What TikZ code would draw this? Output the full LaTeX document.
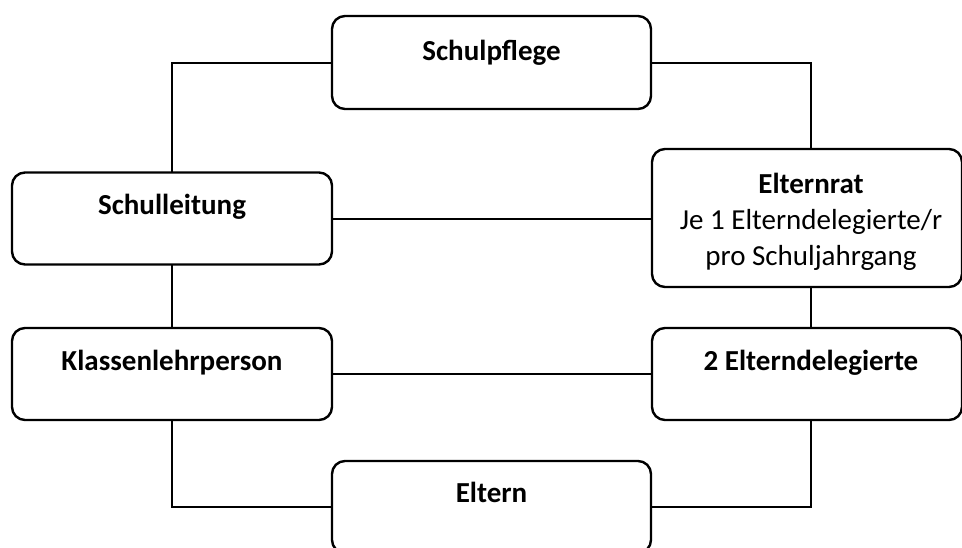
\documentclass[tikz,border=0pt]{standalone}
\usepackage{fontspec}
\setmainfont{Carlito}
\begin{document}
\begin{tikzpicture}[x=1pt,y=-1pt,
  box/.style={draw, line width=2.4pt, rounded corners=13pt, inner sep=0pt, outer sep=0pt, rectangle},
  lbl/.style={inner sep=0pt, align=center, font=\fontsize{29}{36}\selectfont},
  conn/.style={draw, line width=2pt}]
\clip (0,0) rectangle (962,547);
\fill[white] (0,0) rectangle (962,547);
% boxes
\node[box, minimum width=319pt, minimum height=93pt] (sp) at (491.5,62.5) {};
\node[box, minimum width=320pt, minimum height=92pt] (sl) at (172,218.5) {};
\node[box, minimum width=320pt, minimum height=92pt] (kl) at (172,374) {};
\node[box, minimum width=310pt, minimum height=138pt] (er) at (807,218) {};
\node[box, minimum width=310pt, minimum height=92pt] (ed) at (807,374) {};
\node[box, minimum width=319pt, minimum height=92pt] (el) at (491.5,507) {};
% texts
\node[lbl, anchor=base] (spt) at ([yshift=-44pt]sp.north) {\bfseries Schulpflege};
\node[lbl, anchor=base] (slt) at ([yshift=-42pt]sl.north) {\bfseries Schulleitung};
\node[lbl, anchor=base] (klt) at ([yshift=-42pt]kl.north) {\bfseries Klassenlehrperson};
\node[lbl, anchor=base] (ert) at ([xshift=4pt,yshift=-116pt]er.north) {{\bfseries Elternrat}\\Je 1 Elterndelegierte/r\\pro Schuljahrgang};
\node[lbl, anchor=base] (edt) at ([xshift=4pt,yshift=-42pt]ed.north) {\bfseries 2 Elterndelegierte};
\node[lbl, anchor=base] (elt) at ([yshift=-41pt]el.north) {\bfseries Eltern};
% connectors
\draw[conn] (sp.west) -| (sl.north);
\draw[conn] (sp.east) -| ([xshift=4pt]er.north);
\draw[conn] (sl.east) -- (sl.east -| er.west);
\draw[conn] (sl.south) -- (kl.north);
\draw[conn] ([xshift=4pt]er.south) -- ([xshift=4pt]ed.north);
\draw[conn] (kl.east) -- (ed.west);
\draw[conn] (kl.south) |- (el.west);
\draw[conn] ([xshift=4pt]ed.south) |- (el.east);
\end{tikzpicture}
\end{document}
